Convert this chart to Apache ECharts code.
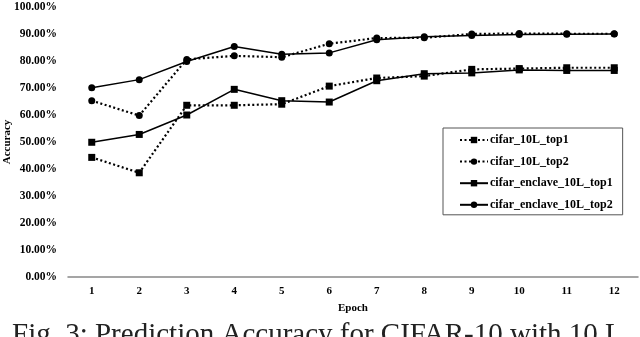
<!DOCTYPE html>
<html>
<head>
<meta charset="utf-8">
<script src="https://cdn.jsdelivr.net/npm/echarts@6/dist/echarts.min.js"></script>
<style>
  html, body { margin: 0; padding: 0; background: #fff; }
  #chart { width: 640px; height: 337px; }
</style>
</head>
<body>
<div id="chart"></div>
<script>
    var epochs = ['1', '2', '3', '4', '5', '6', '7', '8', '9', '10', '11', '12'];
    var cifarTop1 = [44.3, 38.6, 63.6, 63.6, 64.0, 70.7, 73.7, 74.4, 76.9, 77.2, 77.5, 77.5];
    var cifarTop2 = [65.3, 59.8, 80.6, 81.9, 81.4, 86.4, 88.5, 88.6, 90.0, 90.2, 90.1, 90.1];
    var enclaveTop1 = [49.9, 52.8, 60.0, 69.5, 65.3, 64.8, 72.7, 75.3, 75.6, 76.7, 76.5, 76.5];
    var enclaveTop2 = [70.1, 73.1, 79.8, 85.4, 82.5, 83.0, 87.9, 89.0, 89.4, 89.8, 89.9, 90.0];

    var accChart = echarts.init(document.getElementById('chart'));

    var serif = '"Liberation Serif", "DejaVu Serif", serif';

    function makeSeries(name, data, symbol, dashed) {
        return {
            name: name,
            type: 'line',
            data: data,
            symbol: symbol,
            symbolSize: 7,
            showAllSymbol: true,
            lineStyle: {
                color: '#000',
                width: dashed ? 2.2 : 1.5,
                type: dashed ? [2, 2.5] : 'solid'
            },
            itemStyle: {
                color: '#000'
            },
            z: dashed ? 3 : 2
        };
    }

    var option = {
        animation: false,
        backgroundColor: '#fff',
        textStyle: {
            fontFamily: serif
        },
        grid: {
            left: 68,
            right: 2,
            top: 7,
            bottom: 60,
            containLabel: false,
            outerBoundsMode: 'none'
        },
        legend: {
            orient: 'vertical',
            left: 443,
            top: 128,
            width: 179,
            height: 87,
            padding: [6, 10, 4, 16],
            itemGap: 9.6,
            itemWidth: 28,
            itemHeight: 8,
            borderColor: '#555',
            borderWidth: 1,
            backgroundColor: '#fff',
            textStyle: {
                fontFamily: serif,
                fontWeight: 'bold',
                fontSize: 12,
                color: '#000',
                padding: [0, 0, 0, -3]
            },
            data: ['cifar_10L_top1', 'cifar_10L_top2', 'cifar_enclave_10L_top1', 'cifar_enclave_10L_top2']
        },
        xAxis: {
            type: 'category',
            data: epochs,
            name: 'Epoch',
            nameLocation: 'middle',
            nameGap: 26,
            nameMoveOverlap: false,
            nameTextStyle: {
                fontFamily: serif,
                fontWeight: 'bold',
                fontSize: 11,
                color: '#000'
            },
            axisLine: {
                lineStyle: {
                    color: '#888',
                    width: 1.5
                }
            },
            axisTick: { show: false },
            axisLabel: {
                fontFamily: serif,
                fontWeight: 'bold',
                fontSize: 11,
                color: '#000',
                margin: 9
            }
        },
        yAxis: {
            type: 'value',
            min: 0,
            max: 100,
            interval: 10,
            name: 'Accuracy',
            nameLocation: 'middle',
            nameGap: 55,
            nameMoveOverlap: false,
            nameTextStyle: {
                fontFamily: serif,
                fontWeight: 'bold',
                fontSize: 11,
                color: '#000'
            },
            axisLine: { show: false },
            axisTick: { show: false },
            splitLine: { show: false },
            axisLabel: {
                fontFamily: serif,
                fontWeight: 'bold',
                fontSize: 11.5,
                color: '#000',
                margin: 11,
                formatter: function (v) {
                    return v.toFixed(2) + '%';
                }
            }
        },
        graphic: [{
            type: 'text',
            left: 12,
            top: 321,
            style: {
                text: 'Fig. 3: Prediction Accuracy for CIFAR-10 with 10 L',
                fontFamily: serif,
                fontSize: 29,
                fill: '#222'
            }
        }],
        series: [
            makeSeries('cifar_10L_top1', cifarTop1, 'rect', true),
            makeSeries('cifar_10L_top2', cifarTop2, 'circle', true),
            makeSeries('cifar_enclave_10L_top1', enclaveTop1, 'rect', false),
            makeSeries('cifar_enclave_10L_top2', enclaveTop2, 'circle', false)
        ]
    };
    accChart.setOption(option);
</script>
</body>
</html>
